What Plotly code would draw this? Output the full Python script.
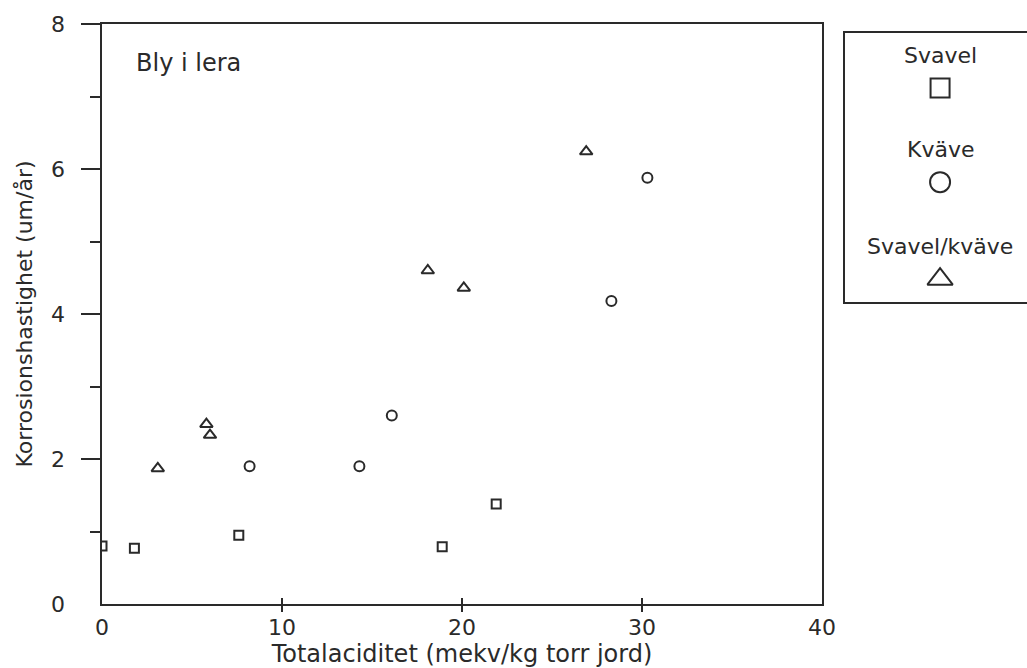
import plotly.graph_objects as go

# Korrosionshastighet för bly i lera mot total aciditet
svavel_x = [0.0, 1.8, 7.6, 18.9, 21.9]
svavel_y = [0.80, 0.77, 0.95, 0.79, 1.38]

kvave_x = [8.2, 14.3, 16.1, 28.3, 30.3]
kvave_y = [1.90, 1.90, 2.60, 4.18, 5.88]

svkv_x = [3.1, 5.8, 6.0, 18.1, 20.1, 26.9]
svkv_y = [1.87, 2.48, 2.33, 4.60, 4.36, 6.24]

x_ticks = [0, 10, 20, 30, 40]
y_ticks = [0, 2, 4, 6, 8]

series_names = ["Svavel", "Kväve", "Svavel/kväve"]

INK = "#2a2a2a"
FONT = "DejaVu Sans"
FS = 22

W, H = 1027, 668
ML, MR, MT, MB = 102, 0, 24, 64
PW, PH = W - ML - MR, H - MT - MB
plot_right = 822  # right edge of the data frame in pixels


def fx(px):
    return (px - ML) / PW


def fy(py):
    return 1 - (py - MT) / PH


main_dom = [0, fx(plot_right)]

fig = go.Figure()

mk = dict(color="rgba(0,0,0,0)", line=dict(color=INK, width=2))
fig.add_trace(go.Scatter(x=svavel_x, y=svavel_y, mode="markers", name=series_names[0],
                         marker=dict(symbol="square", size=9, **mk)))
fig.add_trace(go.Scatter(x=kvave_x, y=kvave_y, mode="markers", name=series_names[1],
                         marker=dict(symbol="circle", size=10, **mk)))
fig.add_trace(go.Scatter(x=svkv_x, y=svkv_y, mode="markers", name=series_names[2],
                         marker=dict(symbol="triangle-up", size=11, **mk)))

# overlay axes carrying the tick labels and the inner half of the x ticks
fig.add_trace(go.Scatter(x=[None], y=[None], xaxis="x2", yaxis="y2", mode="markers",
                         showlegend=False, hoverinfo="skip"))

# key panel: symbol under each series name
key_dom_x = [fx(844), 1.0]
key_dom_y = [fy(303), fy(32)]
key_x = 0.525
key_sym_y = [0.793, 0.446, 0.088]
key_txt_y = [0.915, 0.565, 0.207]
key_sym = ["square", "circle", "triangle-up"]
key_size = [19, 20, 22]
for sym, yy, sz in zip(key_sym, key_sym_y, key_size):
    fig.add_trace(go.Scatter(x=[key_x], y=[yy], xaxis="x3", yaxis="y3", mode="markers",
                             showlegend=False, hoverinfo="skip",
                             marker=dict(symbol=sym, size=sz, **mk)))

axis_common = dict(showgrid=False, zeroline=False, linecolor=INK, tickcolor=INK,
                   tickfont=dict(family=FONT, size=FS, color=INK))

fig.update_layout(
    width=W, height=H,
    margin=dict(l=ML, r=MR, t=MT, b=MB, autoexpand=False),
    paper_bgcolor="white", plot_bgcolor="white",
    showlegend=False,
    font=dict(family=FONT, size=FS, color=INK),
    xaxis=dict(domain=main_dom, range=[0, 40], showline=True, linewidth=2, mirror=True,
               tickmode="array", tickvals=x_ticks[1:-1], ticks="outside", ticklen=6,
               tickwidth=2, showticklabels=False, **axis_common),
    xaxis2=dict(overlaying="x", anchor="y2", domain=main_dom, range=[0, 40],
                showline=False, tickmode="array", tickvals=x_ticks,
                ticktext=[str(v) for v in x_ticks], ticks="inside", ticklen=6, tickwidth=2,
                ticklabelstandoff=8,
                title=dict(text="Totalaciditet (mekv/kg torr jord)", standoff=0,
                           font=dict(family=FONT, size=24, color=INK)),
                **axis_common),
    yaxis=dict(domain=[0, 1], range=[0, 8], showline=True, linewidth=2, mirror=True,
               tickmode="array", tickvals=y_ticks[1:], ticks="outside", ticklen=19,
               tickwidth=2, showticklabels=False,
               minor=dict(tick0=1, dtick=2, ticks="outside", ticklen=10, tickwidth=2,
                          tickcolor=INK, showgrid=False),
               **axis_common),
    yaxis2=dict(overlaying="y", anchor="x2", range=[0, 8], showline=False,
                tickmode="array", tickvals=y_ticks, ticktext=[str(v) for v in y_ticks],
                ticks="", ticklabelstandoff=36,
                title=dict(text="Korrosionshastighet (um/år)", standoff=12,
                           font=dict(family=FONT, size=FS, color=INK)),
                **axis_common),
    xaxis3=dict(domain=key_dom_x, range=[0, 1], visible=False, anchor="y3"),
    yaxis3=dict(domain=key_dom_y, range=[0, 1], visible=False, anchor="x3"),
)

# key frame (open on the right, running off the page)
fig.add_shape(type="rect", xref="paper", yref="paper",
              x0=key_dom_x[0], x1=1.02, y0=key_dom_y[0], y1=key_dom_y[1],
              line=dict(color=INK, width=2), fillcolor="rgba(0,0,0,0)")

for name, yy in zip(series_names, key_txt_y):
    fig.add_annotation(x=key_x, y=yy, xref="x3", yref="y3", text=name, showarrow=False,
                       xanchor="center", yanchor="middle",
                       font=dict(family=FONT, size=FS, color=INK))

fig.add_annotation(x=1.8, y=7.46, xref="x", yref="y", text="Bly i lera", showarrow=False,
                   xanchor="left", yanchor="middle",
                   font=dict(family=FONT, size=24, color=INK))

fig.write_html("out.html")
